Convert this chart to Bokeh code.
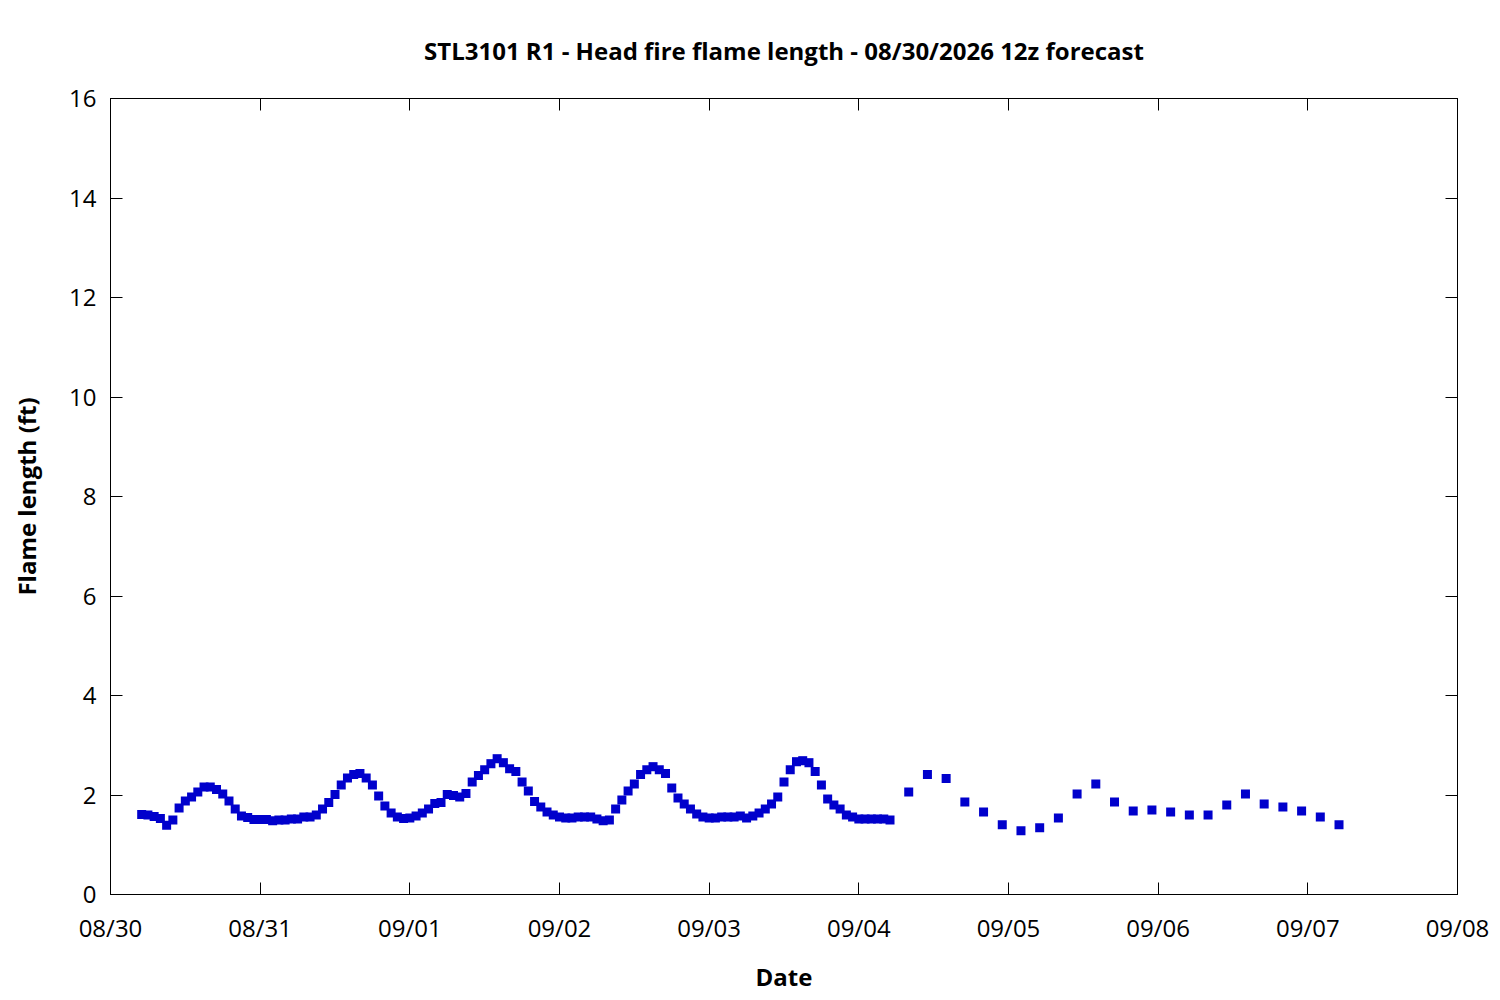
import pandas as pd
from bokeh.plotting import figure
from bokeh.models import (ColumnDataSource, Range1d, DatetimeTickFormatter, DaysTicker,
                          LinearAxis, DatetimeAxis, FixedTicker)
from bokeh.embed import file_html
from bokeh.resources import INLINE

# ---- data ----
title_text = "STL3101 R1 - Head fire flame length - 08/30/2026 12z forecast"
x_label = "Date"
y_label = "Flame length (ft)"

hourly_start = "2026-08-30 05:00"
hourly_fl = [
    1.61, 1.60, 1.57, 1.53, 1.39, 1.50, 1.74, 1.88, 1.96, 2.06, 2.16, 2.16, 2.11, 2.02, 1.88,
    1.72, 1.58, 1.55, 1.51, 1.51, 1.51, 1.48, 1.50, 1.50, 1.52, 1.52, 1.56, 1.56, 1.60, 1.72,
    1.85, 2.01, 2.20, 2.34, 2.41, 2.43, 2.34, 2.20, 1.98, 1.78, 1.64, 1.56, 1.53,
    1.54, 1.58, 1.64, 1.72, 1.83, 1.85, 2.01, 1.99, 1.96, 2.03, 2.26, 2.39, 2.51, 2.63, 2.73,
    2.65, 2.53, 2.47, 2.26, 2.08, 1.87, 1.76, 1.66, 1.60, 1.56, 1.54, 1.54, 1.56, 1.56, 1.56,
    1.52, 1.48, 1.50, 1.72, 1.90, 2.08, 2.22, 2.41, 2.51, 2.57, 2.51, 2.43, 2.14, 1.94, 1.82,
    1.72, 1.62,
    1.56, 1.54, 1.54, 1.56, 1.56, 1.56, 1.58, 1.54, 1.58, 1.64, 1.72, 1.82, 1.96, 2.26, 2.51,
    2.67, 2.69, 2.65, 2.47, 2.20, 1.92, 1.80, 1.72, 1.60, 1.56, 1.52, 1.52, 1.52, 1.52, 1.52,
    1.50,
]
three_hourly_start = "2026-09-04 08:00"
three_hourly_fl = [
    2.06, 2.41, 2.33, 1.86, 1.66, 1.40, 1.28, 1.34, 1.54, 2.02, 2.22, 1.86,
    1.68, 1.70, 1.66, 1.60, 1.60, 1.80, 2.02, 1.82, 1.76, 1.68, 1.56, 1.40,
]
x_start = "2026-08-30"
x_end = "2026-09-08"
y_ticks = [0, 2, 4, 6, 8, 10, 12, 14, 16]

times = list(pd.date_range(hourly_start, periods=len(hourly_fl), freq="h")) + \
        list(pd.date_range(three_hourly_start, periods=len(three_hourly_fl), freq="3h"))
values = hourly_fl + three_hourly_fl
src = ColumnDataSource(dict(t=times, fl=values))

FONT = "Open Sans"
FS = "24px"

p = figure(width=1490, height=996, x_axis_type="datetime", output_backend="svg",
           toolbar_location=None,
           x_range=Range1d(pd.Timestamp(x_start), pd.Timestamp(x_end)),
           y_range=Range1d(0, 16),
           min_border_left=110, min_border_right=33, min_border_top=98, min_border_bottom=102)

p.title.text = title_text
p.title.align = "center"
p.title.text_font = FONT
p.title.text_font_size = FS
p.title.text_font_style = "bold"
p.title.text_color = "black"
p.title.standoff = 63

p.xgrid.visible = False
p.ygrid.visible = False
p.outline_line_color = "black"
p.outline_line_width = 1
p.background_fill_color = "white"
p.border_fill_color = "white"

fmt = DatetimeTickFormatter(days="%m/%d", months="%m/%d", hours="%m/%d", years="%m/%d")
dticker = DaysTicker(days=list(range(1, 32)))

def style_axis(ax, labels=True):
    ax.axis_line_color = "black"
    ax.major_tick_line_color = "black"
    ax.major_tick_in = 12
    ax.major_tick_out = 0
    ax.minor_tick_line_color = None
    ax.major_label_text_font = FONT
    ax.major_label_text_font_size = FS
    ax.major_label_text_color = "black"
    ax.axis_label_text_font = FONT
    ax.axis_label_text_font_size = FS
    ax.axis_label_text_font_style = "bold"
    ax.axis_label_text_color = "black"
    if not labels:
        ax.major_label_text_font_size = "0px"
        ax.major_label_text_color = None

xa = p.xaxis[0]
xa.ticker = dticker
xa.formatter = fmt
style_axis(xa)
xa.axis_label = x_label
xa.major_label_standoff = 16
xa.axis_label_standoff = 13

ya = p.yaxis[0]
ya.ticker = FixedTicker(ticks=y_ticks)
style_axis(ya)
ya.axis_label = y_label
ya.major_label_standoff = 14
ya.axis_label_standoff = 23

top_ax = DatetimeAxis(ticker=dticker, formatter=fmt)
style_axis(top_ax, labels=False)
p.add_layout(top_ax, "above")
right_ax = LinearAxis(ticker=FixedTicker(ticks=y_ticks))
style_axis(right_ax, labels=False)
p.add_layout(right_ax, "right")

p.scatter("t", "fl", source=src, marker="square", size=9,
          fill_color="#0000cc", line_color=None)

open("out.html", "w").write(file_html(p, INLINE))
